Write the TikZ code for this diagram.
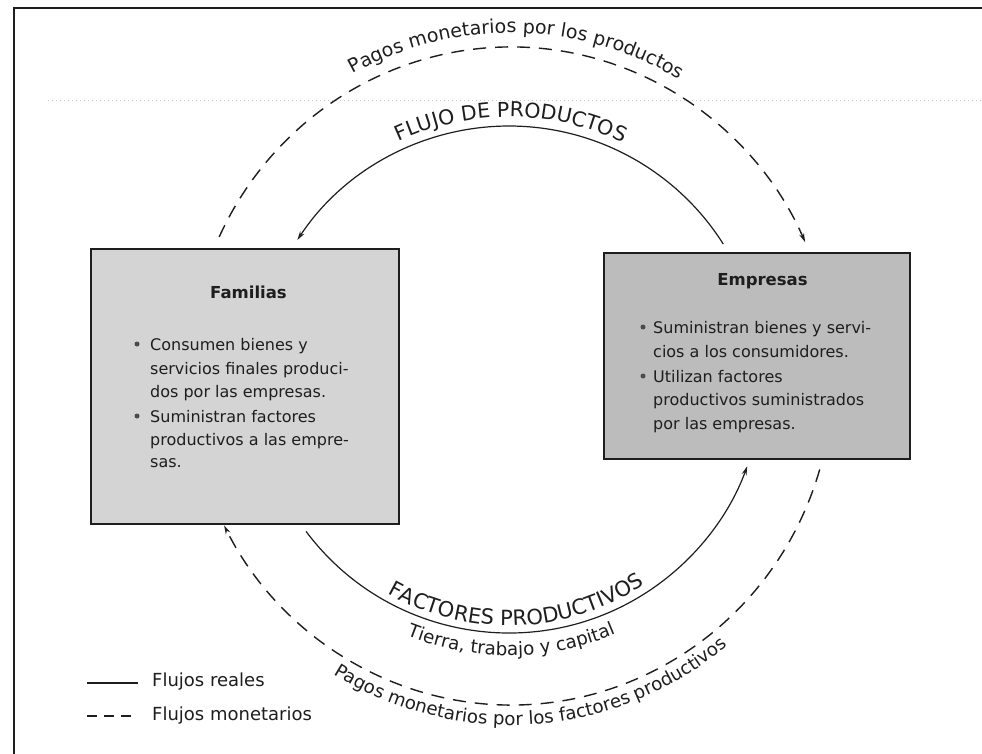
\documentclass[tikz,border=0pt]{standalone}
\usepackage{fontspec}
\setmainfont{DejaVu Sans}
\usetikzlibrary{arrows.meta,decorations.text,calc}
\definecolor{famfill}{HTML}{D4D4D4}
\definecolor{empfill}{HTML}{BCBCBC}
\definecolor{ink}{HTML}{1E1E1E}
\tikzset{
  boxshape/.style={draw=ink, line width=2.2pt, inner sep=0pt, anchor=north west},
  realflow/.style={draw=ink, line width=1.2pt},
  moneyflow/.style={draw=ink, line width=1.4pt, dash pattern=on 13pt off 9pt},
  flowtip/.style={-{Stealth[length=9pt,width=5pt]}},
  boxtxt/.style={anchor=base west, inner sep=0pt, font=\fontsize{16}{16}\selectfont, text=ink},
  boxtitle/.style={anchor=base, inner sep=0pt, font=\fontsize{16.5}{16.5}\selectfont\bfseries, text=ink},
  legtxt/.style={anchor=base west, inner sep=0pt, font=\fontsize{18}{18}\selectfont, text=ink},
  bulletdot/.style={circle, fill=ink!80, inner sep=0pt, minimum size=5pt},
}
\begin{document}
\begin{tikzpicture}[x=1pt,y=1pt]
\useasboundingbox (0,0) rectangle (982,-754);
\fill[white] (0,0) rectangle (982,-754);
% frame and faint scan line
\draw[ink, line width=1.8pt] (14,-754) -- (14,-8) -- (982,-8);
\draw[gray!45, line width=0.7pt, dash pattern=on 1pt off 3pt] (48,-100) -- (982,-100);

% boxes
\node[boxshape, fill=famfill, minimum width=308pt, minimum height=275pt] (fam) at (90,-248) {};
\node[boxshape, fill=empfill, minimum width=306pt, minimum height=206pt] (emp) at (603,-252) {};

% titles
\node[boxtitle] (famt) at (248.5,-298) {Familias};
\node[boxtitle] (empt) at (762.5,-285) {Empresas};

% Familias text
\node[bulletdot] (fb1) at (137,-344) {};
\node[bulletdot] (fb2) at (137,-416) {};
\node[boxtxt] (f1) at (150,-350) {Consumen bienes y};
\node[boxtxt] (f2) at (150,-374) {servicios finales produci-};
\node[boxtxt] (f3) at (150,-397.5) {dos por las empresas.};
\node[boxtxt] (f4) at (150,-422) {Suministran factores};
\node[boxtxt] (f5) at (150,-445) {productivos a las empre-};
\node[boxtxt] (f6) at (150,-467.5) {sas.};

% Empresas text
\node[bulletdot] (eb1) at (643,-327) {};
\node[bulletdot] (eb2) at (643,-376) {};
\node[boxtxt] (e1) at (653,-333) {Suministran bienes y servi-};
\node[boxtxt] (e2) at (653,-357) {cios a los consumidores.};
\node[boxtxt] (e3) at (653,-382) {Utilizan factores};
\node[boxtxt] (e4) at (653,-405.5) {productivos suministrados};
\node[boxtxt] (e5) at (653,-429.5) {por las empresas.};

% centres
\coordinate (cs) at (509,-379.5);
\coordinate (cd) at (511,-376);

% connector end points
\coordinate (flujoA) at ($(cs)+(32.3:253.5pt)$);
\coordinate (factA) at ($(cs)+(216.8:253.5pt)$);
\coordinate (pagoA) at ($(cd)+({322*cos(155)},{329*sin(155)})$);
\coordinate (pagoB) at ($(cd)+({322*cos(343.5)},{329*sin(343.5)})$);

% flows
\draw[realflow, flowtip] (flujoA) arc[start angle=32.3, end angle=146.6, radius=253.5pt];
\draw[realflow, flowtip] (factA) arc[start angle=216.8, end angle=340, radius=253.5pt];
\draw[moneyflow, flowtip] (pagoA) arc[start angle=155, end angle=24, x radius=322pt, y radius=329pt];
\draw[moneyflow, flowtip] (pagoB) arc[start angle=343.5, end angle=207, x radius=322pt, y radius=329pt];

% curved labels
\path[decorate, decoration={text along path, text align=center,
  text={|\fontsize{19}{19}\selectfont\color{ink}|Pagos monetarios por los productos}}]
  ($(cd)+({334*cos(149)},{343*sin(149)})$) arc[start angle=149, end angle=29, x radius=334pt, y radius=343pt];
\path[decorate, decoration={text along path, text align=center,
  text={|\fontsize{20.5}{20.5}\selectfont\color{ink}|FLUJO DE PRODUCTOS}}]
  ($(cs)+(150:262.5pt)$) arc[start angle=150, end angle=29.2, radius=262.5pt];
\path[decorate, decoration={text along path, text align=center,
  text={|\fontsize{21}{21}\selectfont\color{ink}|FACTORES PRODUCTIVOS}}]
  ($(cs)+(212:246pt)$) arc[start angle=212, end angle=332, radius=246pt];
\path[decorate, decoration={text along path, text align=center,
  text={|\fontsize{18.3}{18.3}\selectfont\color{ink}|Tierra, trabajo y capital}}]
  ($(cs)+(210:276pt)$) arc[start angle=210, end angle=331, radius=276pt];
\path[decorate, decoration={text along path, text align=center,
  text={|\fontsize{18.2}{18.2}\selectfont\color{ink}|Pagos monetarios por los factores productivos}}]
  ($(cd)+({341*cos(214)},{349*sin(214)})$) arc[start angle=214, end angle=334, x radius=341pt, y radius=349pt];

% legend
\coordinate (l1a) at (87,-683);
\coordinate (l1b) at (138,-683);
\coordinate (l2a) at (87,-716);
\coordinate (l2b) at (138,-716);
\draw[realflow] (l1a) -- (l1b);
\draw[moneyflow, dash pattern=on 10pt off 7pt] (l2a) -- (l2b);
\node[legtxt] (leg1) at (152,-686) {Flujos reales};
\node[legtxt] (leg2) at (152,-720) {Flujos monetarios};
\end{tikzpicture}
\end{document}
